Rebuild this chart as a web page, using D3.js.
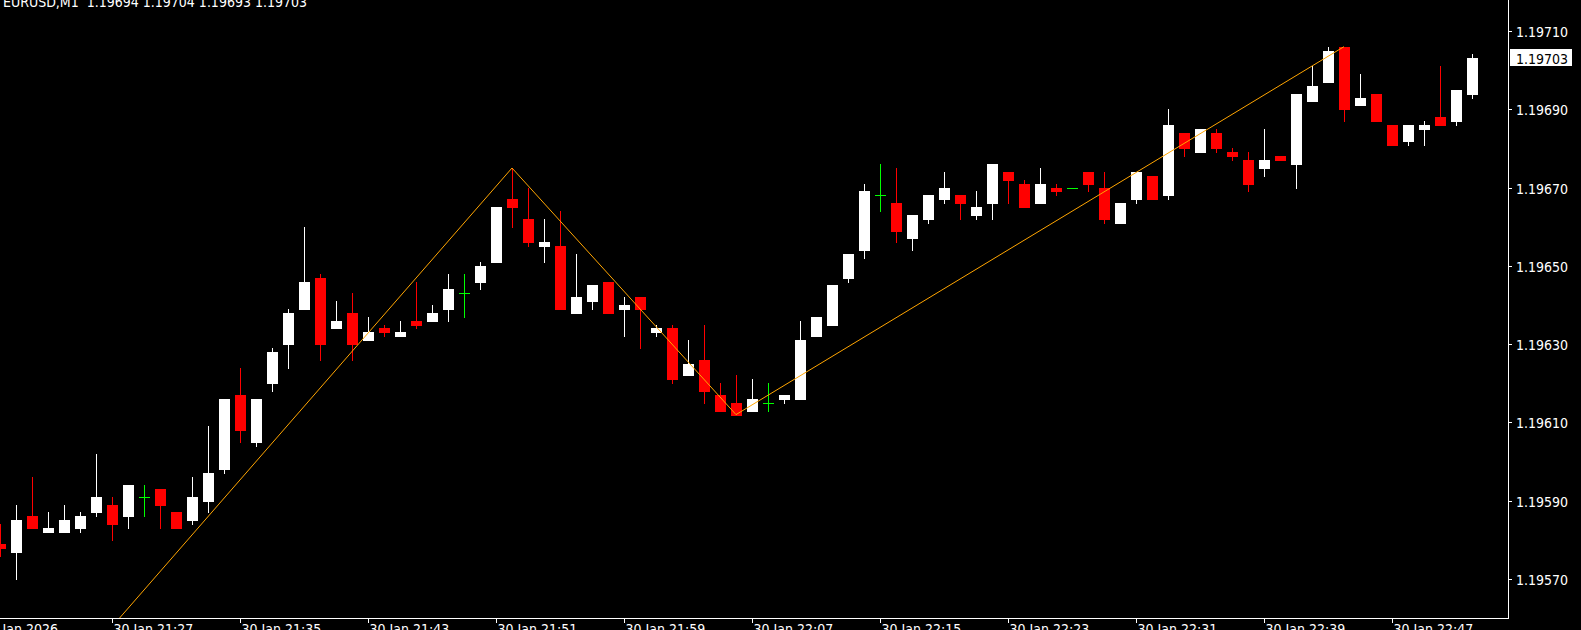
<!DOCTYPE html>
<html><head><meta charset="utf-8">
<script src="https://cdn.jsdelivr.net/npm/d3@7"></script>
<style>html,body{margin:0;padding:0;background:#000;overflow:hidden}svg{display:block}</style>
</head><body>
<svg id="c" width="1581" height="630"></svg>
<script>
const symbolTitle = "EURUSD,M1";
const lastQuote = ["1.19694","1.19704","1.19693","1.19703"];
const times = ["21:20","21:21","21:22","21:23","21:24","21:25","21:26","21:27","21:28","21:29",
"21:30","21:31","21:32","21:33","21:34","21:35","21:36","21:37","21:38","21:39",
"21:40","21:41","21:42","21:43","21:44","21:45","21:46","21:47","21:48","21:49",
"21:50","21:51","21:52","21:53","21:54","21:55","21:56","21:57","21:58","21:59",
"22:00","22:01","22:02","22:03","22:04","22:05","22:06","22:07","22:08","22:09",
"22:10","22:11","22:12","22:13","22:14","22:15","22:16","22:17","22:18","22:19",
"22:20","22:21","22:22","22:23","22:24","22:25","22:26","22:27","22:28","22:29",
"22:30","22:31","22:32","22:33","22:34","22:35","22:36","22:37","22:38","22:39",
"22:40","22:41","22:42","22:43","22:44","22:45","22:46","22:47","22:48","22:49",
"22:50","22:51","22:52"];
const open = [1.19579,1.19577,1.19586,1.19582,1.19582,1.19583,1.19587,1.19589,1.19586,1.19591,
1.19593,1.19587,1.19585,1.19590,1.19598,1.19617,1.19605,1.19620,1.19630,1.19639,
1.19647,1.19634,1.19638,1.19631,1.19634,1.19632,1.19636,1.19636,1.19639,1.19643,
1.19646,1.19651,1.19667,1.19662,1.19655,1.19655,1.19638,1.19641,1.19646,1.19639,
1.19642,1.19633,1.19634,1.19622,1.19626,1.19617,1.19615,1.19613,1.19615,1.19616,
1.19616,1.19632,1.19635,1.19647,1.19654,1.19668,1.19666,1.19657,1.19662,1.19667,
1.19668,1.19663,1.19666,1.19674,1.19671,1.19666,1.19670,1.19670,1.19674,1.19670,
1.19661,1.19667,1.19673,1.19668,1.19684,1.19679,1.19684,1.19679,1.19677,1.19675,
1.19678,1.19676,1.19692,1.19697,1.19706,1.19691,1.19694,1.19686,1.19682,1.19685,
1.19688,1.19687,1.19694];
const high = [1.19584,1.19589,1.19596,1.19587,1.19589,1.19587,1.19602,1.19591,1.19594,1.19594,
1.19593,1.19587,1.19596,1.19609,1.19616,1.19624,1.19616,1.19629,1.19639,1.19660,
1.19648,1.19641,1.19643,1.19637,1.19635,1.19636,1.19646,1.19640,1.19648,1.19648,
1.19651,1.19665,1.19675,1.19670,1.19662,1.19664,1.19653,1.19645,1.19646,1.19642,
1.19642,1.19635,1.19635,1.19631,1.19635,1.19620,1.19622,1.19621,1.19620,1.19617,
1.19636,1.19637,1.19645,1.19653,1.19671,1.19676,1.19675,1.19663,1.19668,1.19674,
1.19668,1.19669,1.19676,1.19674,1.19672,1.19675,1.19671,1.19670,1.19674,1.19674,
1.19666,1.19674,1.19673,1.19690,1.19684,1.19685,1.19685,1.19680,1.19679,1.19685,
1.19678,1.19694,1.19701,1.19706,1.19706,1.19699,1.19694,1.19686,1.19686,1.19687,
1.19701,1.19695,1.19704];
const low = [1.19576,1.19570,1.19583,1.19582,1.19582,1.19582,1.19586,1.19580,1.19583,1.19586,
1.19583,1.19583,1.19584,1.19587,1.19597,1.19605,1.19604,1.19618,1.19624,1.19639,
1.19626,1.19634,1.19626,1.19631,1.19632,1.19632,1.19634,1.19636,1.19636,1.19637,
1.19644,1.19651,1.19660,1.19655,1.19651,1.19639,1.19638,1.19639,1.19638,1.19632,
1.19629,1.19632,1.19620,1.19622,1.19615,1.19613,1.19612,1.19613,1.19613,1.19615,
1.19616,1.19632,1.19635,1.19646,1.19652,1.19664,1.19656,1.19654,1.19661,1.19666,
1.19662,1.19662,1.19662,1.19666,1.19665,1.19666,1.19668,1.19670,1.19669,1.19661,
1.19661,1.19666,1.19667,1.19667,1.19678,1.19679,1.19679,1.19677,1.19669,1.19673,
1.19677,1.19670,1.19692,1.19697,1.19687,1.19691,1.19687,1.19681,1.19681,1.19681,
1.19686,1.19686,1.19693];
const close = [1.19578,1.19585,1.19583,1.19583,1.19585,1.19586,1.19591,1.19584,1.19594,1.19591,
1.19589,1.19583,1.19591,1.19597,1.19616,1.19608,1.19616,1.19628,1.19638,1.19646,
1.19630,1.19636,1.19630,1.19633,1.19633,1.19633,1.19635,1.19638,1.19644,1.19643,
1.19650,1.19665,1.19665,1.19656,1.19656,1.19639,1.19642,1.19645,1.19638,1.19640,
1.19639,1.19634,1.19621,1.19625,1.19618,1.19613,1.19612,1.19616,1.19615,1.19617,
1.19631,1.19637,1.19645,1.19653,1.19669,1.19668,1.19659,1.19663,1.19668,1.19670,
1.19666,1.19665,1.19676,1.19672,1.19665,1.19671,1.19669,1.19670,1.19671,1.19662,
1.19666,1.19674,1.19667,1.19686,1.19680,1.19685,1.19680,1.19678,1.19671,1.19677,
1.19677,1.19694,1.19696,1.19705,1.19690,1.19693,1.19687,1.19681,1.19686,1.19686,
1.19686,1.19695,1.19703];
const priceTicks = [1.19570,1.19590,1.19610,1.19630,1.19650,1.19670,1.19690,1.19710];
const timeTickBars = ["21:20","21:27","21:35","21:43","21:51","21:59","22:07","22:15","22:23","22:31","22:39","22:47"];
const timeTickLabels = ["30 Jan 2026","30 Jan 21:27","30 Jan 21:35","30 Jan 21:43","30 Jan 21:51","30 Jan 21:59","30 Jan 22:07","30 Jan 22:15","30 Jan 22:23","30 Jan 22:31","30 Jan 22:39","30 Jan 22:47"];
const zigzagBars = ["21:20","21:52","22:06","22:44"];
const zigzagPrices = [1.19525,1.19675,1.19612,1.19706];

const W = 1581, H = 630, plotR = 1508, plotB = 618;
const FONT = "'DejaVu Sans Condensed','DejaVu Sans',sans-serif";
const svg = d3.select("#c");
svg.append("rect").attr("width", W).attr("height", H).attr("fill", "#000");

const x = d3.scalePoint().domain(times).range([0, 1472]);
const y = d3.scaleLinear().domain([1.19570, 1.19710]).range([579, 31]);

const defs = svg.append("defs");
defs.append("clipPath").attr("id", "plot").append("rect")
  .attr("x", 0).attr("y", 0).attr("width", plotR).attr("height", plotB);

const g = svg.append("g").attr("clip-path", "url(#plot)").attr("shape-rendering", "crispEdges");
const bars = times.map((t, i) => ({t, o: open[i], h: high[i], l: low[i], c: close[i]}));
const col = d => d.c > d.o ? "#ffffff" : (d.c < d.o ? "#ff0000" : "#00ff00");
const px = d => Math.round(x(d.t)) + 0.5;
const py = v => Math.round(y(v));

g.selectAll("line.wick").data(bars).join("line").attr("class", "wick")
  .attr("x1", px).attr("x2", px)
  .attr("y1", d => py(d.h)).attr("y2", d => py(d.l) + 1)
  .attr("stroke", col).attr("stroke-width", 1);
g.selectAll("rect.body").data(bars.filter(d => d.c !== d.o)).join("rect").attr("class", "body")
  .attr("x", d => Math.round(x(d.t)) - 5)
  .attr("width", 11)
  .attr("y", d => py(Math.max(d.o, d.c)))
  .attr("height", d => py(Math.min(d.o, d.c)) - py(Math.max(d.o, d.c)) + 1)
  .attr("fill", col);
g.selectAll("line.doji").data(bars.filter(d => d.c === d.o)).join("line").attr("class", "doji")
  .attr("x1", d => Math.round(x(d.t)) - 5).attr("x2", d => Math.round(x(d.t)) + 6)
  .attr("y1", d => py(d.o) + 0.5).attr("y2", d => py(d.o) + 0.5)
  .attr("stroke", "#00ff00");

const zz = zigzagBars.map((t, i) => [x(t), y(zigzagPrices[i])]);
svg.append("g").attr("clip-path", "url(#plot)").append("path")
  .attr("d", d3.line()(zz)).attr("fill", "none").attr("stroke", "#ffa500").attr("stroke-width", 1);

svg.append("line").attr("x1", 0).attr("x2", plotR + 0.5).attr("y1", plotB + 0.5).attr("y2", plotB + 0.5)
  .attr("stroke", "#fff").attr("shape-rendering", "crispEdges");
svg.append("line").attr("x1", plotR + 0.5).attr("x2", plotR + 0.5).attr("y1", 0).attr("y2", plotB + 1)
  .attr("stroke", "#fff").attr("shape-rendering", "crispEdges");

const ya = svg.append("g");
priceTicks.forEach(p => {
  const yy = py(p) + 0.5;
  ya.append("line").attr("x1", plotR).attr("x2", plotR + 4).attr("y1", yy).attr("y2", yy)
    .attr("stroke", "#fff").attr("shape-rendering", "crispEdges");
  ya.append("text").attr("x", 1516).attr("y", yy).attr("dy", "0.36em")
    .attr("fill", "#fff").attr("font-family", FONT).attr("font-size", 14).text(d3.format(".5f")(p));
});
const cp = close[close.length - 1];
ya.append("rect").attr("x", 1510).attr("y", py(cp) - 9).attr("width", 62).attr("height", 17).attr("fill", "#fff");
ya.append("text").attr("x", 1516).attr("y", py(cp) + 0.5).attr("dy", "0.36em")
  .attr("fill", "#000").attr("font-family", FONT).attr("font-size", 14).text(d3.format(".5f")(cp));

const xa = svg.append("g");
timeTickBars.forEach((t, i) => {
  const xx = Math.round(x(t)) + 0.5;
  if (i > 0) xa.append("line").attr("x1", xx).attr("x2", xx).attr("y1", plotB).attr("y2", plotB + 5)
    .attr("stroke", "#fff").attr("shape-rendering", "crispEdges");
  xa.append("text").attr("x", i === 0 ? xx - 18 : xx + 1).attr("y", 634)
    .attr("fill", "#fff").attr("font-family", FONT).attr("font-size", 14).text(timeTickLabels[i]);
});

svg.append("text").attr("x", 3).attr("y", 7).attr("fill", "#fff").attr("font-family", FONT).attr("font-size", 14)
  .attr("xml:space", "preserve").text(symbolTitle + "  " + lastQuote.join(" "));
</script>
</body></html>
